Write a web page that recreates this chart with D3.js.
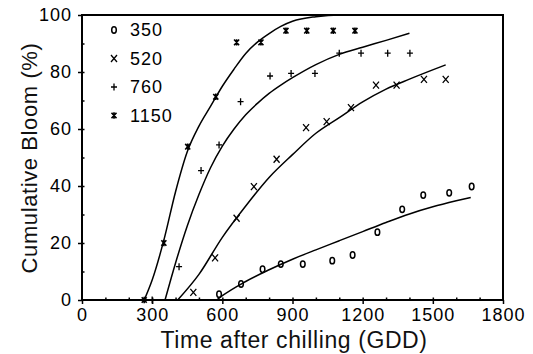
<!DOCTYPE html>
<html><head><meta charset="utf-8">
<script src="https://cdn.jsdelivr.net/npm/d3@7/dist/d3.min.js"></script>
<style>
body{margin:0;background:#fff;}
svg{display:block;font-family:"Liberation Sans",Arial,sans-serif;}
</style></head>
<body><svg id="c" width="533" height="354"></svg>
<script>
// ---- data ----
const seriesNames = ["350", "520", "760", "1150"];
const xTicks = [0, 300, 600, 900, 1200, 1500, 1800];
const yTicks = [0, 20, 40, 60, 80, 100];

// observed points [GDD, %]
const obs350 = [[586,2],[680,5.6],[772,10.8],[850,12.6],[944,12.6],[1070,13.8],[1157,15.8],[1263,23.8],[1369,31.8],[1459,36.8],[1570,37.6],[1666,39.8]];
const obs520 = [[476,2.7],[569,14.8],[661,28.7],[735,39.8],[832,49.4],[958,60.5],[1046,62.6],[1150,67.5],[1257,75.4],[1345,75.4],[1462,77.4],[1555,77.4]];
const obs760 = [[300,0],[415,11.7],[509,45.4],[586,54.4],[678,69.6],[804,78.6],[894,79.5],[996,79.5],[1100,86.6],[1193,86.6],[1307,86.6],[1402,86.6]];
const obs1150 = [[266,0],[350,20],[452,53.8],[572,71.3],[661,90.4],[765,90.4],[872,94.5],[961,94.5],[1074,94.5],[1167,94.5]];

// fitted curves [GDD, %]
const fit350 = [[576,0],[600,1.5],[700,6.5],[800,10.6],[900,14.3],[1000,17.6],[1100,20.8],[1200,24],[1300,27.2],[1400,30.2],[1500,32.7],[1600,34.8],[1662,36]];
const fit520 = [[409,0],[500,9],[600,22],[700,33],[800,43],[900,51],[1000,58.5],[1100,64],[1200,69.5],[1300,74],[1400,77.5],[1555,82.5]];
const fit760 = [[355,0],[400,13],[450,26],[500,37],[550,46.5],[600,54],[650,60],[700,65],[750,69],[800,72.5],[850,75.4],[900,78],[1000,82.6],[1100,86.2],[1200,88.7],[1300,91.1],[1400,93.6]];
const fit1150 = [[266,0],[300,7],[350,21],[400,38],[450,52],[500,61],[550,68],[600,75],[650,81],[700,86.5],[750,90.5],[800,93.5],[850,96],[900,97.8],[1000,99.4],[1100,100],[1167,100]];

const obsList = [obs350, obs520, obs760, obs1150];
const fitList = [fit350, fit520, fit760, fit1150];
const markers = ["circle", "x", "plus", "star"];

// ---- layout ----
const svg = d3.select("#c");
const x = d3.scaleLinear().domain([0, 1800]).range([82, 503]);
const y = d3.scaleLinear().domain([0, 100]).range([300, 15]);

function markerPath(type, cx, cy){
  const p = d3.path();
  if(type === "x"){
    p.moveTo(cx-3, cy-3.5); p.lineTo(cx+3, cy+3.5);
    p.moveTo(cx+3, cy-3.5); p.lineTo(cx-3, cy+3.5);
  } else if(type === "plus"){
    p.moveTo(cx-3, cy); p.lineTo(cx+3, cy);
    p.moveTo(cx, cy-3.5); p.lineTo(cx, cy+3.5);
  } else if(type === "star"){
    p.moveTo(cx-2.5, cy-2.8); p.lineTo(cx+2.5, cy+2.8);
    p.moveTo(cx+2.5, cy-2.8); p.lineTo(cx-2.5, cy+2.8);
    p.moveTo(cx, cy-3.2); p.lineTo(cx, cy+3.2);
  }
  return p.toString();
}
function drawMarker(g, type, cx, cy){
  if(type === "circle"){
    g.append("ellipse").attr("cx", cx).attr("cy", cy).attr("rx", 2.3).attr("ry", 3.2)
      .attr("fill", "none").attr("stroke", "#000").attr("stroke-width", 1.5);
  } else {
    g.append("path").attr("d", markerPath(type, cx, cy))
      .attr("fill", "none").attr("stroke", "#000")
      .attr("stroke-width", type === "star" ? 1.6 : 1.3);
  }
}

// axes
const gx = svg.append("g").attr("transform", "translate(0,300)")
  .call(d3.axisBottom(x).tickValues(xTicks).tickSize(4).tickPadding(4).tickFormat(d3.format("d")));
gx.select(".domain").remove();
gx.selectAll("text").attr("font-size", 18).attr("letter-spacing", "1px")
  .attr("font-family", "'Liberation Sans',Arial,sans-serif");
gx.selectAll("line").attr("stroke-width", 1.5);
const gxm = svg.append("g").attr("transform", "translate(0,300)")
  .call(d3.axisBottom(x).tickValues(d3.range(100, 1800, 100)).tickSize(-2.5).tickFormat(""));
gxm.select(".domain").remove();
gxm.selectAll("line").attr("stroke-width", 1.5);

const gy = svg.append("g").attr("transform", "translate(82,0)")
  .call(d3.axisLeft(y).tickValues(yTicks).tickSize(4).tickPadding(6));
gy.select(".domain").remove();
gy.selectAll("text").attr("font-size", 18).attr("letter-spacing", "1px")
  .attr("font-family", "'Liberation Sans',Arial,sans-serif");
gy.selectAll("line").attr("stroke-width", 1.5);
const gym = svg.append("g").attr("transform", "translate(82,0)")
  .call(d3.axisLeft(y).tickValues(d3.range(10, 100, 10)).tickSize(-2.5).tickFormat(""));
gym.select(".domain").remove();
gym.selectAll("line").attr("stroke-width", 1.5);

// frame
svg.append("rect").attr("x", x(0)).attr("y", y(100))
  .attr("width", x(1800) - x(0)).attr("height", y(0) - y(100))
  .attr("fill", "none").attr("stroke", "#000").attr("stroke-width", 2);

// titles
svg.append("text").attr("x", 294).attr("y", 348).attr("text-anchor", "middle")
  .attr("font-size", 23).attr("letter-spacing", "0.6px").attr("fill", "#111").text("Time after chilling (GDD)");
svg.append("text").attr("transform", "translate(37,158) rotate(-90)").attr("text-anchor", "middle")
  .attr("font-size", 22).attr("letter-spacing", "0.6px").attr("fill", "#111").text("Cumulative Bloom (%)");

// curves
const line = d3.line().x(d => x(d[0])).y(d => y(d[1])).curve(d3.curveMonotoneX);
const gc = svg.append("g");
fitList.forEach(f => {
  gc.append("path").attr("d", line(f)).attr("fill", "none").attr("stroke", "#000").attr("stroke-width", 1.5);
});

// points
const gp = svg.append("g");
obsList.forEach((s, i) => {
  s.forEach(d => drawMarker(gp, markers[i], x(d[0]), y(d[1])));
});

// legend
const lg = svg.append("g");
seriesNames.forEach((n, i) => {
  const ly = 30 + i * 28.5;
  drawMarker(lg, markers[i], 114, ly);
  lg.append("text").attr("x", 130).attr("y", ly).attr("dy", "0.36em")
    .attr("font-size", 18).attr("letter-spacing", "1px").text(n);
});
</script></body></html>
